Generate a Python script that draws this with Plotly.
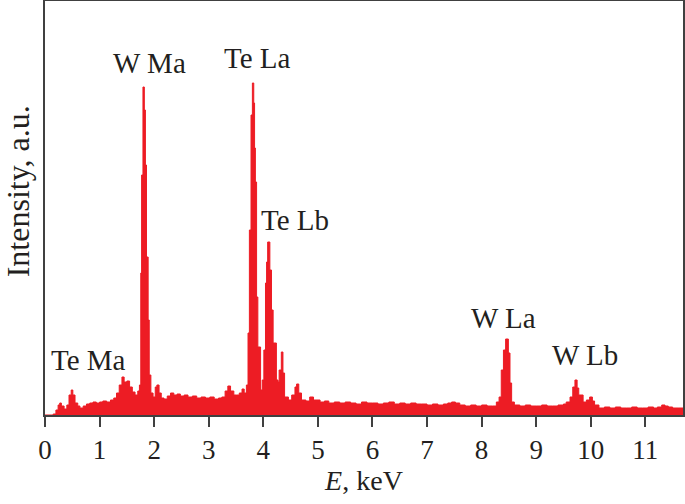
import plotly.graph_objects as go

# Spectrum: energy (keV) and intensity (a.u.), step histogram
energy = [0.00, 0.15, 0.20, 0.24, 0.27, 0.30, 0.35, 0.40, 0.44, 0.48, 0.51, 0.55, 0.60, 0.64,
          0.70, 0.76, 0.82, 0.88, 0.94, 1.00, 1.06, 1.13, 1.20, 1.26, 1.31, 1.36, 1.41, 1.45,
          1.50, 1.55, 1.60, 1.65, 1.70, 1.73, 1.755, 1.77, 1.795, 1.82, 1.84, 1.86, 1.89, 1.91,
          1.94, 1.98, 2.02, 2.05, 2.09, 2.13, 2.18, 2.24, 2.30, 2.36, 2.42, 2.48, 2.55, 2.62,
          2.70, 2.78, 2.86, 2.94, 3.02, 3.10, 3.18, 3.24, 3.30, 3.35, 3.40, 3.46, 3.51, 3.56,
          3.61, 3.65, 3.69, 3.72, 3.745, 3.775, 3.80, 3.825, 3.84, 3.855, 3.877, 3.90, 3.95,
          3.98, 4.01, 4.04, 4.06, 4.08, 4.12, 4.15, 4.18, 4.24, 4.27, 4.29, 4.33, 4.36, 4.39,
          4.46, 4.52, 4.58, 4.61, 4.65, 4.70, 4.78, 4.85, 4.92, 5.04, 5.12, 5.20, 5.30, 5.40,
          5.50, 5.60, 5.70, 5.80, 5.90, 6.00, 6.10, 6.20, 6.30, 6.40, 6.50, 6.60, 6.70, 6.80,
          6.90, 7.00, 7.10, 7.20, 7.30, 7.38, 7.45, 7.52, 7.60, 7.70, 7.80, 7.90, 8.00, 8.10,
          8.20, 8.27, 8.32, 8.36, 8.40, 8.44, 8.49, 8.52, 8.55, 8.60, 8.70, 8.80, 8.90, 9.00,
          9.10, 9.20, 9.30, 9.40, 9.50, 9.55, 9.62, 9.67, 9.71, 9.75, 9.78, 9.86, 9.92, 9.98,
          10.03, 10.07, 10.15, 10.25, 10.35, 10.45, 10.55, 10.65, 10.75, 10.85, 10.95, 11.05,
          11.15, 11.22, 11.30, 11.36, 11.42, 11.50, 11.60, 11.70]
intensity = [0, 1, 5, 10, 12, 9, 6, 10, 20, 25, 20, 12, 9, 7,
             9, 11, 12, 13, 12, 13, 14, 13, 15, 17, 22, 30, 38, 33,
             34, 28, 23, 20, 24, 30, 142, 240, 328, 305, 250, 158, 95, 40,
             22, 18, 28, 30, 22, 17, 16, 19, 22, 20, 21, 19, 20, 18,
             19, 17, 18, 17, 18, 16, 17, 18, 24, 29, 24, 20, 20, 22,
             26, 22, 30, 82, 185, 300, 332, 312, 267, 233, 118, 68, 25,
             35, 65, 132, 153, 173, 145, 105, 72, 35, 33, 45, 63, 42, 18,
             15, 20, 28, 31, 22, 15, 14, 18, 15, 13, 14, 12, 13, 12,
             13, 12, 11, 13, 12, 12, 11, 12, 13, 11, 12, 11, 12, 11,
             11, 10, 11, 10, 11, 12, 13, 12, 10, 9, 10, 9, 10, 9,
             9, 13, 18, 45, 65, 76, 62, 32, 13, 10, 9, 10, 9, 9,
             10, 9, 9, 10, 11, 13, 18, 28, 35, 27, 20, 13, 15, 18,
             14, 10, 7, 8, 7, 8, 7, 7, 8, 7, 7, 8,
             7, 8, 10, 9, 8, 7, 7, 7]

peak_labels = ["Te Ma", "W Ma", "Te La", "Te Lb", "W La", "W Lb"]
label_x = [0.80, 1.92, 3.90, 4.58, 8.41, 9.89]
label_y = [55, 352, 357, 195, 97, 60]

x_ticks = list(range(0, 12))

RED = "#ed1c24"
INK = "#231f20"
FONT = "Liberation Serif"

fig = go.Figure()
fig.add_trace(go.Scatter(
    x=energy, y=intensity, mode="lines", line=dict(color=RED, width=1, shape="hv"),
    fill="tozeroy", fillcolor=RED, hoverinfo="skip", showlegend=False))

for t, xv, yv in zip(peak_labels, label_x, label_y):
    fig.add_annotation(x=xv, y=yv, xref="x", yref="y", text=t, showarrow=False,
                       font=dict(family=FONT, size=29, color=INK),
                       xanchor="center", yanchor="middle")

fig.add_annotation(x=-0.041, y=0.54, xref="paper", yref="paper", text="Intensity, a.u.",
                   textangle=-90, showarrow=False,
                   font=dict(family=FONT, size=32, color=INK),
                   xanchor="center", yanchor="middle")

fig.update_layout(
    width=685, height=504,
    margin=dict(l=45, r=2, t=1, b=89),
    paper_bgcolor="white", plot_bgcolor="white",
    font=dict(family=FONT, color=INK),
)
fig.update_xaxes(
    range=[0, 11.69], tickmode="array", tickvals=x_ticks, ticktext=[str(v) for v in x_ticks],
    ticks="outside", ticklen=10, tickwidth=1.5, tickcolor="#404040",
    showline=True, linecolor="#404040", linewidth=1.5, mirror=True,
    showgrid=False, zeroline=False, automargin=False,
    tickfont=dict(family=FONT, size=27, color=INK),
    title=dict(text="<i>E</i>, keV", font=dict(family=FONT, size=28, color=INK), standoff=2),
)
fig.update_yaxes(
    range=[0, 414], showticklabels=False, ticks="", automargin=False,
    showline=True, linecolor="#404040", linewidth=1.5, mirror=True,
    showgrid=False, zeroline=False,
)

fig.write_html("out.html", config={"displayModeBar": False},
               post_script="document.body.style.margin='0px';document.body.style.overflow='hidden';")
